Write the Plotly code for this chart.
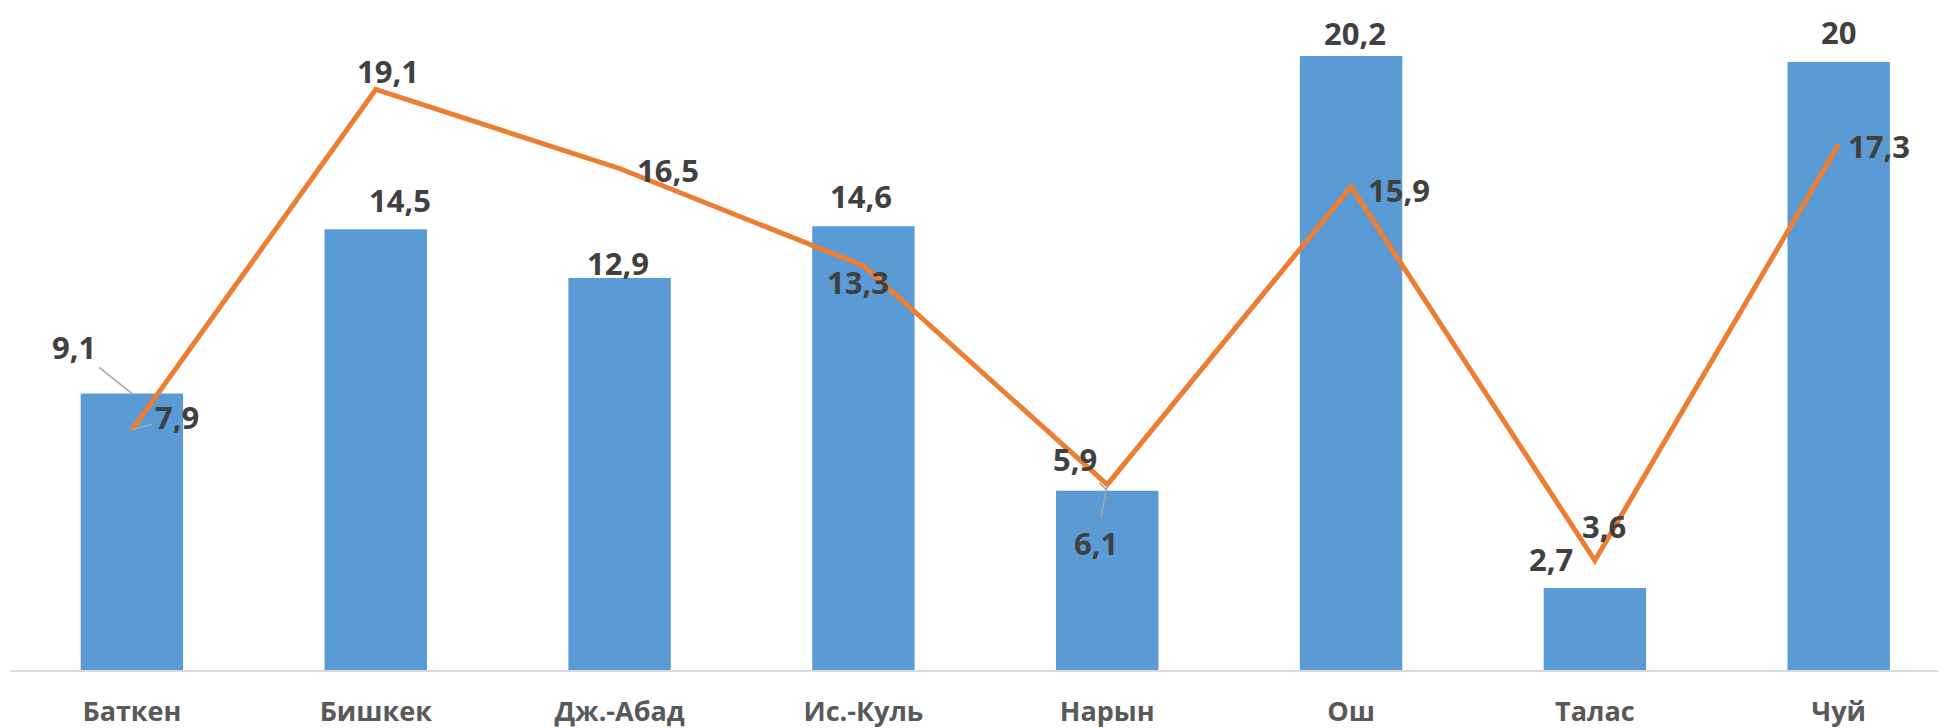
import plotly.graph_objects as go

# regions and the two series
regions = ["Баткен", "Бишкек", "Дж.-Абад", "Ис.-Куль", "Нарын", "Ош", "Талас", "Чуй"]
bar_values = [9.1, 14.5, 12.9, 14.6, 5.9, 20.2, 2.7, 20.0]
line_values = [7.9, 19.1, 16.5, 13.3, 6.1, 15.9, 3.6, 17.3]

# label offsets in pixels (dx, dy) relative to each point, Excel-style placement
bar_label_offsets = [(-58, -46), (24, -29), (-2, -15), (-2, -30), (-32, -32), (4, -23), (-44, -29), (0, -30)]
line_label_offsets = [(45, -13), (12, -18), (48, 2), (-5, 16), (-11, 58), (48, 3), (9, -35), (40, 2)]
bar_leaders = [True, False, False, False, True, False, False, False]
line_leaders = [True, False, False, False, True, False, False, False]

BLUE = "#5B9BD5"
ORANGE = "#ED7D31"
TEXT = "#404040"
FONT = "Open Sans"

def fmt(v):
    s = f"{v:g}"
    return s.replace(".", ",")

fig = go.Figure()
fig.add_trace(go.Bar(x=regions, y=bar_values, marker=dict(color=BLUE, line=dict(width=0)),
                     showlegend=False, hoverinfo="skip"))
fig.add_trace(go.Scatter(x=regions, y=line_values, mode="lines",
                         line=dict(color=ORANGE, width=5), showlegend=False, hoverinfo="skip"))

annotations = []
for series, offsets, leaders in [(bar_values, bar_label_offsets, bar_leaders),
                                 (line_values, line_label_offsets, line_leaders)]:
    for cat, v, (dx, dy), lead in zip(regions, series, offsets, leaders):
        a = dict(x=cat, y=v, xref="x", yref="y", text="<b>" + fmt(v) + "</b>",
                 font=dict(family=FONT, size=31, color=TEXT))
        if lead:
            a.update(showarrow=True, ax=dx, ay=dy, arrowhead=0, arrowwidth=1.5,
                     arrowcolor="#A6A6A6", standoff=0, startstandoff=2)
        else:
            a.update(showarrow=False, xshift=dx, yshift=-dy)
        annotations.append(a)

# the page body keeps its default 8px margin, so the figure is 8px smaller
fig.update_layout(
    width=1938, height=720,
    margin=dict(l=2, r=0, t=0, b=58),
    plot_bgcolor="white", paper_bgcolor="white",
    bargap=0.58,
    annotations=annotations,
    xaxis=dict(range=[-0.5, 7.44], automargin=False, showgrid=False, showline=True,
               linecolor="#D9D9D9", linewidth=2,
               ticks="", ticklabelstandoff=17,
               tickfont=dict(family=FONT, size=27, color="#595959"),
               tickvals=regions, ticktext=["<b>" + r + "</b>" for r in regions]),
    yaxis=dict(range=[0, 21.78], visible=False, automargin=False),
)

fig.write_html("out.html")
